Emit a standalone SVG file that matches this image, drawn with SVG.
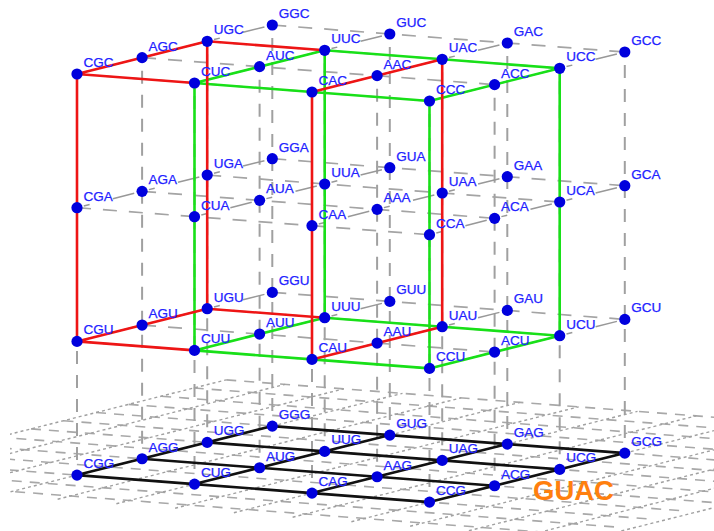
<svg xmlns="http://www.w3.org/2000/svg" width="714" height="531" viewBox="0 0 714 531">
<style>
.lbl{font-family:"Liberation Sans",Arial,sans-serif;font-size:13.5px;fill:#2222ff;stroke:#2222ff;stroke-width:.25}
.dot{fill:#0000dd}
.v{fill:none;stroke:#a0a0a0;stroke-width:2;stroke-dasharray:13 11}
.jl{fill:none;stroke:#a4a4a4;stroke-width:1.7;stroke-dasharray:14 12}
.il{fill:none;stroke:#989898;stroke-width:1.5;stroke-dasharray:0 7 6 24 22 8}
.fj{fill:none;stroke:#a8a8a8;stroke-width:1.6;stroke-dasharray:10 8}
.fi{fill:none;stroke:#a0a0a0;stroke-width:1.4;stroke-dasharray:3 3}
.red{fill:none;stroke:#ee1515;stroke-width:2.6}
.grn{fill:none;stroke:#18e018;stroke-width:2.6}
.blk{fill:none;stroke:#111;stroke-width:2.6}
</style>
<defs>
<clipPath id="floorClip"><rect x="10" y="370" width="704" height="161"/></clipPath>
<circle id="d" class="dot" r="5.6"/>
<path id="jLines" class="jl" d="M77 74L194.5 83L312 92L429.5 101M142.1 57.65L259.6 66.65L377.1 75.65L494.6 84.65M207.2 41.3L324.7 50.3L442.2 59.3L559.7 68.3M272.3 25L389.8 34L507.3 43L624.8 52"/>
<path id="iLines" class="il" d="M77 74L142.1 57.65M142.1 57.65L207.2 41.3M207.2 41.3L272.3 25M194.5 83L259.6 66.65M259.6 66.65L324.7 50.3M324.7 50.3L389.8 34M312 92L377.1 75.65M377.1 75.65L442.2 59.3M442.2 59.3L507.3 43M429.5 101L494.6 84.65M494.6 84.65L559.7 68.3M559.7 68.3L624.8 52"/>
<path id="redEdges" class="red" d="M77 74L207.2 41.3M77 74L194.5 83M207.2 41.3L324.7 50.3M312 92L442.2 59.3"/>
<path id="grnEdges" class="grn" d="M194.5 83L324.7 50.3M194.5 83L312 92L429.5 101M324.7 50.3L442.2 59.3L559.7 68.3M429.5 101L559.7 68.3"/>
</defs>
<g id="connectors">
<g id="floor-grid" clip-path="url(#floorClip)">
<path class="fj" d="M-164.35 477.95L581.8 535.1M-131.8 469.78L614.35 526.93M-99.25 461.6L646.9 518.75M-66.7 453.43L679.45 510.58M-34.15 445.25L712 502.4M-1.6 437.08L744.55 494.23M30.95 428.9L777.1 486.05M63.5 420.73L809.65 477.88M96.05 412.55L842.2 469.7M128.6 404.38L874.75 461.53M161.15 396.2L907.3 453.35M193.7 388.03L939.85 445.18M226.25 379.85L972.4 437"/>
<path class="fi" d="M-177.37 481.22L226.25 379.85M-118.62 485.72L285 384.35M-59.87 490.22L343.75 388.85M-1.12 494.72L402.5 393.35M57.63 499.22L461.25 397.85M116.38 503.72L520 402.35M175.13 508.22L578.75 406.85M233.88 512.72L637.5 411.35M292.63 517.22L696.25 415.85M351.38 521.72L755 420.35M410.13 526.22L813.75 424.85M468.88 530.72L872.5 429.35M527.63 535.22L931.25 433.85M586.38 539.72L990 438.35"/>
</g>
<path id="verticals" class="v" d="M77 87V475.1M142.1 70.65V458.75M207.2 54.3V442.4M272.3 38V426.1M194.5 96V484.1M259.6 79.65V467.75M324.7 63.3V451.4M389.8 47V435.1M312 105V493.1M377.1 88.65V476.75M442.2 72.3V460.4M507.3 56V444.1M429.5 114V502.1M494.6 97.65V485.75M559.7 81.3V469.4M624.8 65V453.1"/>
<g id="layer-dashes">
<use href="#jLines"/><use href="#iLines"/>
<use href="#jLines" y="133.7"/><use href="#iLines" y="133.7"/>
<use href="#jLines" y="267.4"/><use href="#iLines" y="267.4"/>
</g>
<g id="black-grid" class="blk" transform="translate(0 401.1)">
<path d="M77 74L194.5 83L312 92L429.5 101M142.1 57.65L259.6 66.65L377.1 75.65L494.6 84.65M207.2 41.3L324.7 50.3L442.2 59.3L559.7 68.3M272.3 25L389.8 34L507.3 43L624.8 52M77 74L272.3 25M194.5 83L389.8 34M312 92L507.3 43M429.5 101L624.8 52"/>
</g>
<g id="green-edges">
<use href="#grnEdges"/><use href="#grnEdges" y="267.4"/>
<path class="grn" d="M194.5 83V350.4M324.7 50.3V317.7M429.5 101V368.4M559.7 68.3V335.7"/>
</g>
<g id="red-edges">
<use href="#redEdges"/><use href="#redEdges" y="267.4"/>
<path class="red" d="M77 74V341.4M207.2 41.3V308.7M312 92V359.4M442.2 59.3V326.7"/>
</g>
</g>
<g id="layer-C">
<g id="CGC" transform="translate(77 74)"><use href="#d"/><text class="lbl" x="6.5" y="-7">CGC</text></g>
<g id="AGC" transform="translate(142.1 57.65)"><use href="#d"/><text class="lbl" x="6.5" y="-7">AGC</text></g>
<g id="UGC" transform="translate(207.2 41.3)"><use href="#d"/><text class="lbl" x="6.5" y="-7">UGC</text></g>
<g id="GGC" transform="translate(272.3 25)"><use href="#d"/><text class="lbl" x="6.5" y="-7">GGC</text></g>
<g id="CUC" transform="translate(194.5 83)"><use href="#d"/><text class="lbl" x="6.5" y="-7">CUC</text></g>
<g id="AUC" transform="translate(259.6 66.65)"><use href="#d"/><text class="lbl" x="6.5" y="-7">AUC</text></g>
<g id="UUC" transform="translate(324.7 50.3)"><use href="#d"/><text class="lbl" x="6.5" y="-7">UUC</text></g>
<g id="GUC" transform="translate(389.8 34)"><use href="#d"/><text class="lbl" x="6.5" y="-7">GUC</text></g>
<g id="CAC" transform="translate(312 92)"><use href="#d"/><text class="lbl" x="6.5" y="-7">CAC</text></g>
<g id="AAC" transform="translate(377.1 75.65)"><use href="#d"/><text class="lbl" x="6.5" y="-7">AAC</text></g>
<g id="UAC" transform="translate(442.2 59.3)"><use href="#d"/><text class="lbl" x="6.5" y="-7">UAC</text></g>
<g id="GAC" transform="translate(507.3 43)"><use href="#d"/><text class="lbl" x="6.5" y="-7">GAC</text></g>
<g id="CCC" transform="translate(429.5 101)"><use href="#d"/><text class="lbl" x="6.5" y="-7">CCC</text></g>
<g id="ACC" transform="translate(494.6 84.65)"><use href="#d"/><text class="lbl" x="6.5" y="-7">ACC</text></g>
<g id="UCC" transform="translate(559.7 68.3)"><use href="#d"/><text class="lbl" x="6.5" y="-7">UCC</text></g>
<g id="GCC" transform="translate(624.8 52)"><use href="#d"/><text class="lbl" x="6.5" y="-7">GCC</text></g>
</g>
<g id="layer-A" transform="translate(0 133.7)">
<g id="CGA" transform="translate(77 74)"><use href="#d"/><text class="lbl" x="6.5" y="-7">CGA</text></g>
<g id="AGA" transform="translate(142.1 57.65)"><use href="#d"/><text class="lbl" x="6.5" y="-7">AGA</text></g>
<g id="UGA" transform="translate(207.2 41.3)"><use href="#d"/><text class="lbl" x="6.5" y="-7">UGA</text></g>
<g id="GGA" transform="translate(272.3 25)"><use href="#d"/><text class="lbl" x="6.5" y="-7">GGA</text></g>
<g id="CUA" transform="translate(194.5 83)"><use href="#d"/><text class="lbl" x="6.5" y="-7">CUA</text></g>
<g id="AUA" transform="translate(259.6 66.65)"><use href="#d"/><text class="lbl" x="6.5" y="-7">AUA</text></g>
<g id="UUA" transform="translate(324.7 50.3)"><use href="#d"/><text class="lbl" x="6.5" y="-7">UUA</text></g>
<g id="GUA" transform="translate(389.8 34)"><use href="#d"/><text class="lbl" x="6.5" y="-7">GUA</text></g>
<g id="CAA" transform="translate(312 92)"><use href="#d"/><text class="lbl" x="6.5" y="-7">CAA</text></g>
<g id="AAA" transform="translate(377.1 75.65)"><use href="#d"/><text class="lbl" x="6.5" y="-7">AAA</text></g>
<g id="UAA" transform="translate(442.2 59.3)"><use href="#d"/><text class="lbl" x="6.5" y="-7">UAA</text></g>
<g id="GAA" transform="translate(507.3 43)"><use href="#d"/><text class="lbl" x="6.5" y="-7">GAA</text></g>
<g id="CCA" transform="translate(429.5 101)"><use href="#d"/><text class="lbl" x="6.5" y="-7">CCA</text></g>
<g id="ACA" transform="translate(494.6 84.65)"><use href="#d"/><text class="lbl" x="6.5" y="-7">ACA</text></g>
<g id="UCA" transform="translate(559.7 68.3)"><use href="#d"/><text class="lbl" x="6.5" y="-7">UCA</text></g>
<g id="GCA" transform="translate(624.8 52)"><use href="#d"/><text class="lbl" x="6.5" y="-7">GCA</text></g>
</g>
<g id="layer-U" transform="translate(0 267.4)">
<g id="CGU" transform="translate(77 74)"><use href="#d"/><text class="lbl" x="6.5" y="-7">CGU</text></g>
<g id="AGU" transform="translate(142.1 57.65)"><use href="#d"/><text class="lbl" x="6.5" y="-7">AGU</text></g>
<g id="UGU" transform="translate(207.2 41.3)"><use href="#d"/><text class="lbl" x="6.5" y="-7">UGU</text></g>
<g id="GGU" transform="translate(272.3 25)"><use href="#d"/><text class="lbl" x="6.5" y="-7">GGU</text></g>
<g id="CUU" transform="translate(194.5 83)"><use href="#d"/><text class="lbl" x="6.5" y="-7">CUU</text></g>
<g id="AUU" transform="translate(259.6 66.65)"><use href="#d"/><text class="lbl" x="6.5" y="-7">AUU</text></g>
<g id="UUU" transform="translate(324.7 50.3)"><use href="#d"/><text class="lbl" x="6.5" y="-7">UUU</text></g>
<g id="GUU" transform="translate(389.8 34)"><use href="#d"/><text class="lbl" x="6.5" y="-7">GUU</text></g>
<g id="CAU" transform="translate(312 92)"><use href="#d"/><text class="lbl" x="6.5" y="-7">CAU</text></g>
<g id="AAU" transform="translate(377.1 75.65)"><use href="#d"/><text class="lbl" x="6.5" y="-7">AAU</text></g>
<g id="UAU" transform="translate(442.2 59.3)"><use href="#d"/><text class="lbl" x="6.5" y="-7">UAU</text></g>
<g id="GAU" transform="translate(507.3 43)"><use href="#d"/><text class="lbl" x="6.5" y="-7">GAU</text></g>
<g id="CCU" transform="translate(429.5 101)"><use href="#d"/><text class="lbl" x="6.5" y="-7">CCU</text></g>
<g id="ACU" transform="translate(494.6 84.65)"><use href="#d"/><text class="lbl" x="6.5" y="-7">ACU</text></g>
<g id="UCU" transform="translate(559.7 68.3)"><use href="#d"/><text class="lbl" x="6.5" y="-7">UCU</text></g>
<g id="GCU" transform="translate(624.8 52)"><use href="#d"/><text class="lbl" x="6.5" y="-7">GCU</text></g>
</g>
<g id="layer-G" transform="translate(0 401.1)">
<g id="CGG" transform="translate(77 74)"><use href="#d"/><text class="lbl" x="6.5" y="-7">CGG</text></g>
<g id="AGG" transform="translate(142.1 57.65)"><use href="#d"/><text class="lbl" x="6.5" y="-7">AGG</text></g>
<g id="UGG" transform="translate(207.2 41.3)"><use href="#d"/><text class="lbl" x="6.5" y="-7">UGG</text></g>
<g id="GGG" transform="translate(272.3 25)"><use href="#d"/><text class="lbl" x="6.5" y="-7">GGG</text></g>
<g id="CUG" transform="translate(194.5 83)"><use href="#d"/><text class="lbl" x="6.5" y="-7">CUG</text></g>
<g id="AUG" transform="translate(259.6 66.65)"><use href="#d"/><text class="lbl" x="6.5" y="-7">AUG</text></g>
<g id="UUG" transform="translate(324.7 50.3)"><use href="#d"/><text class="lbl" x="6.5" y="-7">UUG</text></g>
<g id="GUG" transform="translate(389.8 34)"><use href="#d"/><text class="lbl" x="6.5" y="-7">GUG</text></g>
<g id="CAG" transform="translate(312 92)"><use href="#d"/><text class="lbl" x="6.5" y="-7">CAG</text></g>
<g id="AAG" transform="translate(377.1 75.65)"><use href="#d"/><text class="lbl" x="6.5" y="-7">AAG</text></g>
<g id="UAG" transform="translate(442.2 59.3)"><use href="#d"/><text class="lbl" x="6.5" y="-7">UAG</text></g>
<g id="GAG" transform="translate(507.3 43)"><use href="#d"/><text class="lbl" x="6.5" y="-7">GAG</text></g>
<g id="CCG" transform="translate(429.5 101)"><use href="#d"/><text class="lbl" x="6.5" y="-7">CCG</text></g>
<g id="ACG" transform="translate(494.6 84.65)"><use href="#d"/><text class="lbl" x="6.5" y="-7">ACG</text></g>
<g id="UCG" transform="translate(559.7 68.3)"><use href="#d"/><text class="lbl" x="6.5" y="-7">UCG</text></g>
<g id="GCG" transform="translate(624.8 52)"><use href="#d"/><text class="lbl" x="6.5" y="-7">GCG</text></g>
</g>
<text id="title" x="533" y="499.5" font-family="Liberation Sans, Arial, sans-serif" font-size="27.5" font-weight="bold" fill="#ff7f0e">GUAC</text>
</svg>
